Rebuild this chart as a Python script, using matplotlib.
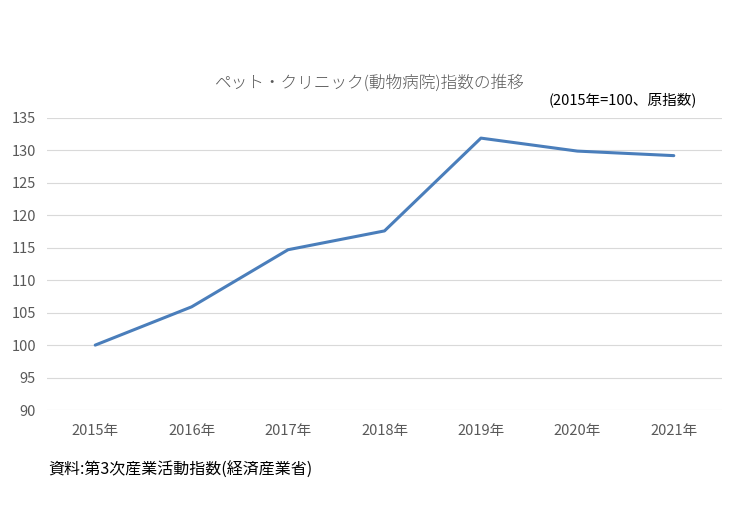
import matplotlib
matplotlib.use('Agg')
from matplotlib import pyplot as plt

plt.rcParams['font.family'] = ['Noto Sans CJK JP', 'DejaVu Sans']

years = ['2015年', '2016年', '2017年', '2018年', '2019年', '2020年', '2021年']
index_values = [100.0, 105.9, 114.7, 117.6, 131.9, 129.9, 129.2]
yticks = [90, 95, 100, 105, 110, 115, 120, 125, 130, 135]

fig = plt.figure(figsize=(7.56, 5.29), dpi=100)
ax = fig.add_axes([47/756, 1 - 410/529, 675/756, 292/529])

x = range(len(years))
ax.plot(x, index_values, color='#4a7ebb', linewidth=2.2, solid_capstyle='round')

ax.set_xlim(-0.5, len(years) - 0.5)
ax.set_ylim(90, 135)
ax.set_yticks(yticks)
ax.set_xticks(list(x))
ax.set_xticklabels(years)
ax.grid(axis='y', color='#d9d9d9', linewidth=0.8)
ax.set_axisbelow(True)
for s in ax.spines.values():
    s.set_visible(False)
ax.tick_params(length=0, labelsize=10.5, colors='#595959', pad=8)
ax.tick_params(axis='x', pad=10)

fig.text(370/756, 1 - 83/529, 'ペット・クリニック(動物病院)指数の推移', ha='center', va='center',
         fontsize=12, color='#595959', fontweight='light')
fig.text(697/756, 1 - 100/529, '(2015年=100、原指数)', ha='right', va='center',
         fontsize=10.5, color='#000000')
fig.text(48/756, 1 - 470/529, '資料:第3次産業活動指数(経済産業省)', ha='left', va='center',
         fontsize=11.5, color='#000000')

fig.savefig('out.png', dpi=100)
